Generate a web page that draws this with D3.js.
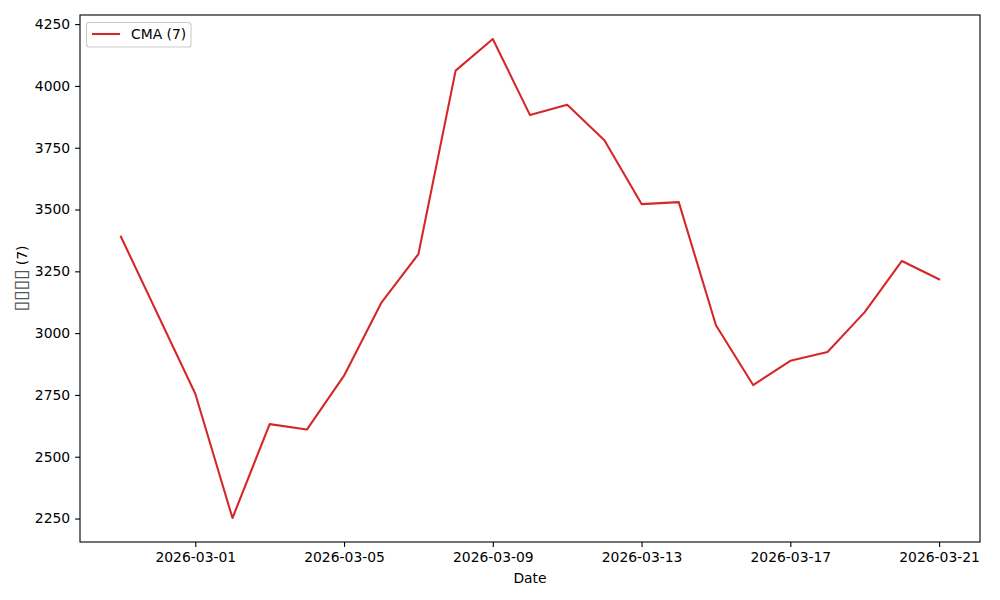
<!DOCTYPE html>
<html><head><meta charset="utf-8">
<script src="https://cdn.jsdelivr.net/npm/d3@7"></script>
<style>body{margin:0;background:#fff}svg{display:block}text{font-family:"DejaVu Sans",sans-serif}</style>
</head><body><svg id="c" width="1000" height="600"></svg>
<script>
const dates = ["2026-02-27","2026-03-01","2026-03-02","2026-03-03","2026-03-04","2026-03-05","2026-03-06","2026-03-07","2026-03-08","2026-03-09","2026-03-10","2026-03-11","2026-03-12","2026-03-13","2026-03-14","2026-03-15","2026-03-16","2026-03-17","2026-03-18","2026-03-19","2026-03-20","2026-03-21"];
const cma = [3390,2755,2252,2632,2610,2828,3122,3320,4062,4190,3882,3924,3780,3522,3530,3032,2790,2888,2924,3085,3292,3218];
const xTicks = ["2026-03-01","2026-03-05","2026-03-09","2026-03-13","2026-03-17","2026-03-21"];
const yTicks = [2250,2500,2750,3000,3250,3500,3750,4000,4250];
const seriesName = "CMA (7)";
const xLabel = "Date";
const yLabelBoxes = "▯▯▯▯";
const yLabelRest = " (7)";

const parse = d3.utcParse("%Y-%m-%d");
const data = dates.map((d,i)=>({x:parse(d),y:cma[i]}));
const svg = d3.select("#c");
const L=80,R=980,T=15,B=542;
const x0 = d3.min(data,d=>d.x), x1 = d3.max(data,d=>d.x);
const xpad = (x1-x0)*0.05;
const x = d3.scaleUtc().domain([new Date(+x0-xpad), new Date(+x1+xpad)]).range([L,R]);
const ymin=d3.min(cma), ymax=d3.max(cma), ypad=(ymax-ymin)*0.05;
const y = d3.scaleLinear().domain([ymin-ypad, ymax+ypad]).range([B,T]);

const fs = 13.9;
const xa = svg.append("g").attr("transform",`translate(0,${B})`)
  .call(d3.axisBottom(x).tickValues(xTicks.map(parse)).tickFormat(d3.utcFormat("%Y-%m-%d")).tickSize(4.9).tickPadding(4.9));
const ya = svg.append("g").attr("transform",`translate(${L},0)`)
  .call(d3.axisLeft(y).tickValues(yTicks).tickFormat(d3.format("d")).tickSize(4.9).tickPadding(4.9));
[xa,ya].forEach(a=>{a.select(".domain").remove();a.selectAll("line").attr("stroke","#000").attr("stroke-width",1.1);a.selectAll("text").attr("font-size",fs).attr("fill","#000").attr("font-family","DejaVu Sans");});

svg.append("path").datum(data).attr("fill","none").attr("stroke","#d62728").attr("stroke-width",2.08)
  .attr("stroke-linejoin","round").attr("stroke-linecap","square")
  .attr("d",d3.line().x(d=>x(d.x)).y(d=>y(d.y)));

svg.append("rect").attr("x",L).attr("y",T).attr("width",R-L).attr("height",B-T).attr("fill","none").attr("stroke","#000").attr("stroke-width",1.1);

svg.append("text").attr("x",(L+R)/2).attr("y",583).attr("text-anchor","middle").attr("font-size",fs).attr("fill","#000").text(xLabel);
const yl = svg.append("text").attr("transform",`translate(27,${(T+B)/2}) rotate(-90)`).attr("text-anchor","middle").attr("font-size",fs).attr("fill","#000");
yl.append("tspan").attr("font-size",19).attr("fill","#555").text(yLabelBoxes);
yl.append("tspan").text(yLabelRest);

const lg = svg.append("g");
lg.append("rect").attr("x",86.5).attr("y",22.5).attr("width",104.5).attr("height",24.5).attr("rx",2.8)
  .attr("fill","#fff").attr("fill-opacity",0.8).attr("stroke","#ccc").attr("stroke-width",1.1);
lg.append("line").attr("x1",92).attr("x2",120).attr("y1",34).attr("y2",34).attr("stroke","#d62728").attr("stroke-width",2.08);
lg.append("text").attr("x",131).attr("y",39).attr("font-size",fs).attr("fill","#000").text(seriesName);
</script></body></html>
